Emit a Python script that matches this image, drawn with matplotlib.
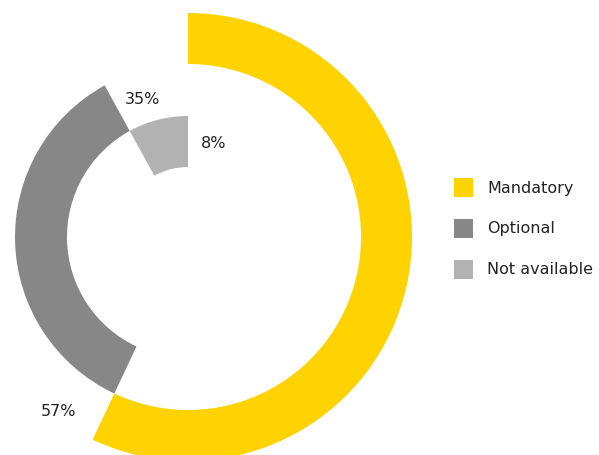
import matplotlib.pyplot as plt
from matplotlib.patches import Wedge, Rectangle

# share of respondents per category
categories = ['Mandatory', 'Optional', 'Not available']
shares = [57, 35, 8]
colors = ['#FFD200', '#878787', '#B2B2B2']

# each ring sits inside the previous one (outer radius, width), in pixels
rings = [(224, 51), (173, 52), (121, 51)]
cx, cy = 188, 218

fig = plt.figure(figsize=(5.99, 4.56), dpi=100)
ax = fig.add_axes([0, 0, 1, 1])
ax.set_xlim(0, 599)
ax.set_ylim(0, 456)
ax.set_aspect('equal')
ax.axis('off')

# clockwise from 12 o'clock, each arc continuing where the last stopped
start = 0.0
for share, color, (r, w) in zip(shares, colors, rings):
    end = start + share / 100 * 360
    ax.add_patch(Wedge((cx, cy), r, 90 - end, 90 - start, width=w,
                       facecolor=color, edgecolor='none'))
    start = end

# percentage labels
label_pos = [(58, 44), (143, 356), (214, 313)]
for share, (x, y) in zip(shares, label_pos):
    ax.text(x, y, f'{share}%', fontsize=11.5, color='#222222',
            ha='center', va='center')

# legend
for i, (cat, color) in enumerate(zip(categories, colors)):
    y = 268 - i * 41
    ax.add_patch(Rectangle((454, y - 9.5), 19, 19, facecolor=color,
                           edgecolor='none'))
    ax.text(487, y, cat, fontsize=11.5, color='#222222', va='center')

fig.savefig('out.png', dpi=100)
